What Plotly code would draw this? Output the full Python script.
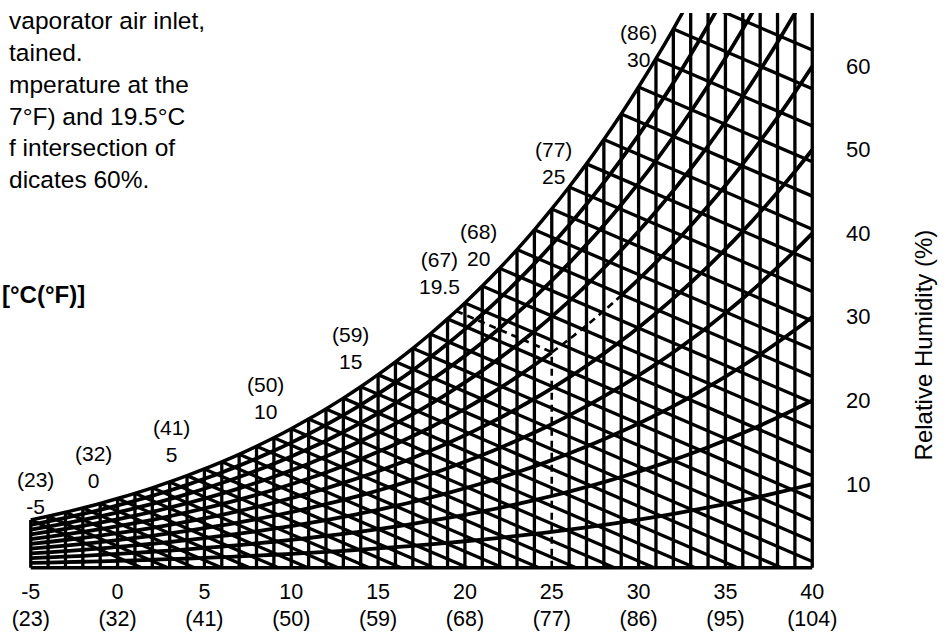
import plotly.graph_objects as go

# ---------------- data ----------------
dry_bulb_c = list(range(-5, 41))
# saturation vapour pressure (kPa) at each dry-bulb temperature
sat_vp_kpa = [0.4215, 0.4547, 0.4900, 0.5277, 0.5678, 0.6112, 0.6571, 0.7060, 0.7581, 0.8135,
              0.8726, 0.9354, 1.0021, 1.0730, 1.1482, 1.2282, 1.3129, 1.4028, 1.4981, 1.5989,
              1.7057, 1.8188, 1.9383, 2.0647, 2.1983, 2.3392, 2.4878, 2.6448, 2.8105, 2.9852,
              3.1693, 3.3633, 3.5674, 3.7823, 4.0084, 4.2460, 4.4962, 4.7586, 5.0345, 5.3239,
              5.6278, 5.9466, 6.2810, 6.6315, 6.9987, 7.3835]
rh_levels = [10, 20, 30, 40, 50, 60, 70, 80, 90]
rh_axis_labels = [10, 20, 30, 40, 50, 60]
wet_bulb_slope = 0.066  # kPa per degC along a wet-bulb line

tick_c = [-5, 0, 5, 10, 15, 20, 25, 30, 35, 40]
tick_f = ["(23)", "(32)", "(41)", "(50)", "(59)", "(68)", "(77)", "(86)", "(95)", "(104)"]

sat_label_t = [-5, 0, 5, 10, 15, 19.5, 20, 25, 30]
sat_label_vp = [0.4215, 0.6112, 0.8726, 1.2282, 1.7057, 2.2677, 2.3392, 3.1693, 4.2460]
sat_label_c = ["-5", "0", "5", "10", "15", "19.5", "20", "25", "30"]
sat_label_f = ["(23)", "(32)", "(41)", "(50)", "(59)", "(67)", "(68)", "(77)", "(86)"]

example_dry_bulb = 25
example_wet_bulb = 19.5
example_wet_bulb_vp = 2.2677
example_rh = 60
example_rh_end = 29

note_lines = ["vaporator air inlet,", "tained.", "mperature at the",
              "7°F) and 19.5°C", "f intersection of", "dicates 60%."]
unit_label = "[°C(°F)]"
rh_title = "Relative Humidity (%)"

# ---------------- styling ----------------
FONT = "Liberation Sans, Arial, Helvetica, sans-serif"
LW = 3.3
LW_RH = 3.8
label_dx = [5, -24, -33, -26, -28, -17, 14, 2, 0]
label_dy = [27, 32, 28, 31, 27, 38, 58, 46, 41]

ps = dict(zip(dry_bulb_c, sat_vp_kpa))
int_vp = example_wet_bulb_vp - wet_bulb_slope * (example_dry_bulb - example_wet_bulb)

fig = go.Figure()

# dry-bulb lines
vx, vy = [], []
for t, p in zip(dry_bulb_c, sat_vp_kpa):
    y0 = int_vp if t == example_dry_bulb else 0
    vx += [t, t, None]
    vy += [y0, p, None]
fig.add_trace(go.Scatter(x=vx, y=vy, mode="lines", line=dict(color="black", width=LW)))

# wet-bulb lines
wx, wy = [], []
for t, p in zip(dry_bulb_c, sat_vp_kpa):
    t0 = t + p / wet_bulb_slope
    if t0 <= 40:
        te, pe = t0, 0
    else:
        te, pe = 40, p - wet_bulb_slope * (40 - t)
    wx += [t, te, None]
    wy += [p, pe, None]
fig.add_trace(go.Scatter(x=wx, y=wy, mode="lines", line=dict(color="black", width=LW)))

# relative humidity curves
for rh in rh_levels:
    if rh == example_rh:
        segs = [[t for t in dry_bulb_c if t <= example_dry_bulb],
                [t for t in dry_bulb_c if t >= example_rh_end]]
    else:
        segs = [dry_bulb_c]
    for seg in segs:
        fig.add_trace(go.Scatter(x=seg, y=[rh / 100 * ps[t] for t in seg], mode="lines",
                                 line=dict(color="black", width=LW_RH, shape="spline")))

# saturation curve
fig.add_trace(go.Scatter(x=dry_bulb_c, y=sat_vp_kpa, mode="lines",
                         line=dict(color="black", width=LW + 0.2, shape="spline")))
# bottom line
fig.add_trace(go.Scatter(x=[dry_bulb_c[0], dry_bulb_c[-1]], y=[0, 0], mode="lines",
                         line=dict(color="black", width=LW + 0.2)))

# example (dashed)
dash = dict(color="black", width=2.6, dash="7px,5px")
fig.add_trace(go.Scatter(x=[example_dry_bulb, example_dry_bulb], y=[0, int_vp], mode="lines", line=dash))
fig.add_trace(go.Scatter(x=[example_wet_bulb, example_dry_bulb], y=[example_wet_bulb_vp, int_vp],
                         mode="lines", line=dash))
seg = [t for t in dry_bulb_c if example_dry_bulb <= t <= example_rh_end]
fig.add_trace(go.Scatter(x=seg, y=[example_rh / 100 * ps[t] for t in seg], mode="lines",
                         line=dict(dash, shape="spline")))

ann = []
for t, p, c, f, dx, dy in zip(sat_label_t, sat_label_vp, sat_label_c, sat_label_f, label_dx, label_dy):
    ann.append(dict(x=t, y=p, xref="x", yref="y", text=f"{f}<br>{c}", showarrow=False,
                    xshift=dx, yshift=dy, xanchor="center", yanchor="middle",
                    font=dict(family=FONT, size=21, color="black")))
for rh in rh_axis_labels:
    ann.append(dict(x=40, y=rh / 100 * ps[40], xref="x", yref="y", text=str(rh), showarrow=False,
                    xshift=46, xanchor="center", yanchor="middle",
                    font=dict(family=FONT, size=22, color="black")))
ann.append(dict(x=1.1407, y=0.404, xref="paper", yref="paper", text=rh_title, showarrow=False,
                textangle=-90, xanchor="center", yanchor="middle",
                font=dict(family=FONT, size=24, color="black")))
ann.append(dict(x=-0.0279, y=1.014, xref="paper", yref="paper", text="<br>".join(note_lines),
                showarrow=False, xanchor="left", yanchor="top", align="left",
                font=dict(family=FONT, size=24.5, color="black")))
ann.append(dict(x=-0.0368, y=0.494, xref="paper", yref="paper", text=f"<b>{unit_label}</b>",
                showarrow=False, xanchor="left", yanchor="middle",
                font=dict(family=FONT, size=24, color="black")))

fig.update_layout(
    width=947, height=643, margin=dict(l=25, r=133, t=13, b=61),
    plot_bgcolor="white", paper_bgcolor="white", showlegend=False,
    xaxis=dict(range=[-5.1, 40.1], tickvals=tick_c,
               ticktext=[f"{c}<br>{f}" for c, f in zip(tick_c, tick_f)],
               showgrid=False, zeroline=False, showline=False, ticks="",
               ticklabelstandoff=6,
               tickfont=dict(family=FONT, size=21.5, color="black")),
    yaxis=dict(range=[-0.02, 4.9], visible=False),
    annotations=ann,
)

fig.write_html("out.html", config={"displayModeBar": False},
               post_script="document.body.style.margin='0';document.body.style.overflow='hidden';")
